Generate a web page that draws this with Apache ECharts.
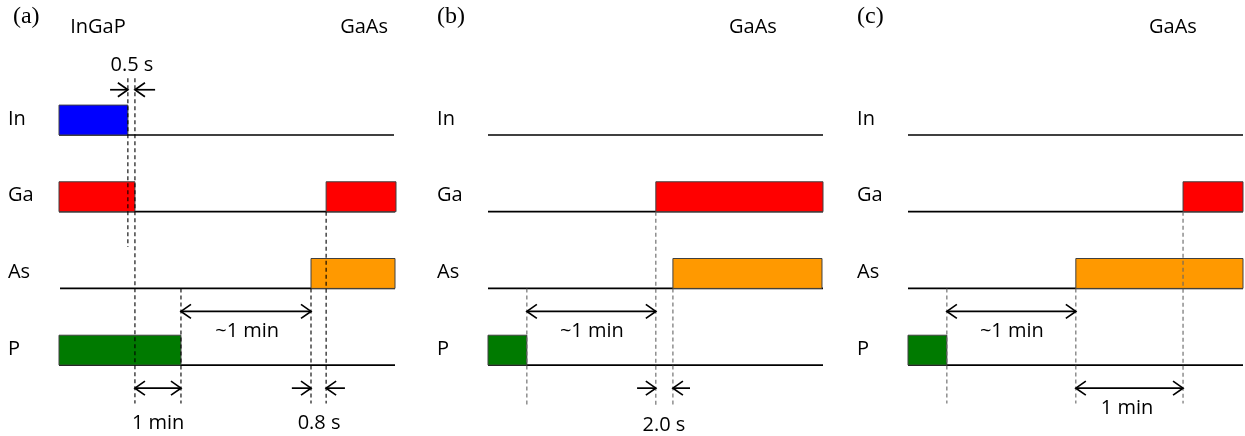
<!DOCTYPE html>
<html><head><meta charset="utf-8">
<script src="https://cdn.jsdelivr.net/npm/echarts@6/dist/echarts.min.js"></script>
<style>html,body{margin:0;padding:0;background:#fff}#c{width:1245px;height:436px}</style>
</head><body><div id="c"></div>
<script>
// Rows (top to bottom): 0 In, 1 Ga, 2 As, 3 P
const rows = ['In', 'Ga', 'As', 'P'];
const panelTags = ['(a)', '(b)', '(c)'];
const tagX = [-13.7, -15.2, -15.2];

// Time axis: arbitrary schematic units, 0-100 per panel
// bars: [row, start, end]
const barsA = [[0, 0, 20.5], [1, 0, 22.6], [1, 79.5, 100.3], [2, 75, 100], [3, 0, 36.3]];
const barsB = [[1, 50.1, 100], [2, 55.2, 99.7], [3, 0, 11.6]];
const barsC = [[1, 82.1, 100], [2, 50.1, 100], [3, 0, 11.6]];

// baselines: [row, start, end]
const baseA = [[0, 0, 99.7], [1, 0, 100], [2, 0.3, 100], [3, 0, 100]];
const baseB = [[0, 0, 100], [1, 0, 100], [2, 0, 100], [3, 0, 100]];
const baseC = [[0, 0, 100], [1, 0, 100], [2, 0, 100], [3, 0, 100]];

// layer labels: [text, x]
const layersA = [['InGaP', 11.6], ['GaAs', 90.8]];
const layersB = [['GaAs', 79.1]];
const layersC = [['GaAs', 79.1]];

// dashed guides: [x, yTop, yBottom] (y in row units)
const dashA = [[20.5, -0.74, 1.46], [22.6, -0.74, 3.5], [36.3, 2, 3.5], [75, 2, 3.5], [79.5, 1, 3.5]];
const dashB = [[11.6, 2, 3.52], [50.1, 1, 3.52], [55.2, 2, 3.52]];
const dashC = [[11.6, 2, 3.5], [50.1, 2, 3.5], [82.1, 1, 3.5]];

// double arrows: [x1, x2, y, label, labelX, labelY]
const spansA = [[36.3, 75, 2.3, '~1 min', 56, 2.56], [22.6, 36.3, 3.3, '1 min', 29.5, 3.76]];
const spansB = [[11.6, 50.1, 2.3, '~1 min', 31, 2.56]];
const spansC = [[11.6, 50.1, 2.3, '~1 min', 31, 2.56], [50.1, 82.1, 3.3, '1 min', 65.4, 3.56]];

// inward arrows: [gapStart, gapEnd, y, outerLeft, outerRight, label, labelX, labelY]
const gapsA = [[20.5, 22.6, -0.59, 15.2, 28.6, '0.5 s', 21.7, -0.91], [75, 79.5, 3.3, 69.3, 85.1, '0.8 s', 77.4, 3.76]];
const gapsB = [[50.1, 55.2, 3.3, 44.5, 60.3, '2.0 s', 52.5, 3.78]];
const gapsC = [];

// ---- styling / layout ----
const rowColors = ['#0000ff', '#ff0000', '#ff9900', '#007a00'];
const BAR_H = 0.39;
const ROW_LABEL_X = -15.2, ROW_LABEL_DY = -0.21, LAYER_Y = -1.40, TAG_Y = -1.54;
const FONT = '20px "Open Sans"';
const TAG_FONT = '24px "Liberation Serif"';
const dashColors = ['#000', '#666', '#666'];

const panels = [
  {bars: barsA, base: baseA, layers: layersA, dash: dashA, spans: spansA, gaps: gapsA},
  {bars: barsB, base: baseB, layers: layersB, dash: dashB, spans: spansB, gaps: gapsB},
  {bars: barsC, base: baseC, layers: layersC, dash: dashC, spans: spansC, gaps: gapsC}
];
const gridLeft = [59, 488, 908];
const gridWidth = [336, 335, 335];

function txt(x, y, text, font, align) {
  return {type: 'text', x: x, y: y, style: {text: text, fill: '#000', font: font || FONT, align: align || 'center', verticalAlign: 'middle'}};
}
function head(tx, ty, dir) {
  const h = 10, w = 7;
  return {type: 'polyline', shape: {points: [[tx - dir * h, ty - w], [tx, ty], [tx - dir * h, ty + w]]},
    style: {stroke: '#000', lineWidth: 1.7, fill: null}};
}
function cs(panel, items, build) {
  return {
    type: 'custom', xAxisIndex: panel, yAxisIndex: panel, clip: false, silent: true, animation: false,
    data: items.map((it, i) => [i, 0]),
    renderItem: (params, api) => build(items[params.dataIndex], api, panel)
  };
}

const series = [];
panels.forEach((p, k) => {
  // baselines
  series.push(cs(k, p.base, (it, api) => {
    const a = api.coord([it[1], it[0]]), b = api.coord([it[2], it[0]]);
    return {type: 'line', shape: {x1: a[0], y1: a[1], x2: b[0], y2: b[1]}, style: {stroke: '#000', lineWidth: 1.7}};
  }));
  // bars
  series.push(cs(k, p.bars, (it, api) => {
    const a = api.coord([it[1], it[0] - BAR_H]), b = api.coord([it[2], it[0]]);
    return {type: 'rect', shape: {x: a[0], y: a[1], width: b[0] - a[0], height: b[1] - a[1]},
      style: {fill: rowColors[it[0]], stroke: '#404040', lineWidth: 1}};
  }));
  // dashed guides
  series.push(cs(k, p.dash, (it, api, pk) => {
    const a = api.coord([it[0], it[1]]), b = api.coord([it[0], it[2]]);
    return {type: 'line', shape: {x1: a[0], y1: a[1], x2: b[0], y2: b[1]},
      style: {stroke: dashColors[pk], lineWidth: 1.1, lineDash: [4, 3]}};
  }));
  // double arrows
  series.push(cs(k, p.spans, (it, api) => {
    const a = api.coord([it[0], it[2]]), b = api.coord([it[1], it[2]]), t = api.coord([it[4], it[5]]);
    return {type: 'group', children: [
      {type: 'line', shape: {x1: a[0], y1: a[1], x2: b[0], y2: b[1]}, style: {stroke: '#000', lineWidth: 1.7}},
      head(a[0], a[1], -1), head(b[0], b[1], 1), txt(t[0], t[1], it[3])
    ]};
  }));
  // inward arrows
  series.push(cs(k, p.gaps, (it, api) => {
    const g1 = api.coord([it[0], it[2]]), g2 = api.coord([it[1], it[2]]);
    const o1 = api.coord([it[3], it[2]]), o2 = api.coord([it[4], it[2]]);
    const t = api.coord([it[6], it[7]]);
    return {type: 'group', children: [
      {type: 'line', shape: {x1: o1[0], y1: o1[1], x2: g1[0], y2: g1[1]}, style: {stroke: '#000', lineWidth: 1.7}},
      {type: 'line', shape: {x1: o2[0], y1: o2[1], x2: g2[0], y2: g2[1]}, style: {stroke: '#000', lineWidth: 1.7}},
      head(g1[0], g1[1], 1), head(g2[0], g2[1], -1), txt(t[0], t[1], it[5])
    ]};
  }));
  // row labels
  series.push(cs(k, rows, (it, api) => {
    const r = rows.indexOf(it);
    const a = api.coord([ROW_LABEL_X, r + ROW_LABEL_DY]);
    return txt(a[0], a[1], it, FONT, 'left');
  }));
  // layer labels
  series.push(cs(k, p.layers, (it, api) => {
    const a = api.coord([it[1], LAYER_Y]);
    return txt(a[0], a[1], it[0]);
  }));
  // panel tag
  series.push(cs(k, [panelTags[k]], (it, api, pk) => {
    const a = api.coord([tagX[pk], TAG_Y]);
    return txt(a[0], a[1], it, TAG_FONT, 'left');
  }));
});

const chart = echarts.init(document.getElementById('c'), null, {renderer: 'canvas'});
chart.setOption({
  animation: false,
  backgroundColor: '#fff',
  grid: [0, 1, 2].map(k => ({left: gridLeft[k], width: gridWidth[k], top: 0, height: 436})),
  xAxis: [0, 1, 2].map(k => ({type: 'value', gridIndex: k, min: 0, max: 100, show: false})),
  yAxis: [0, 1, 2].map(k => ({type: 'value', gridIndex: k, min: -1.76, max: 3.924, inverse: true, show: false})),
  series: series
});
</script></body></html>
